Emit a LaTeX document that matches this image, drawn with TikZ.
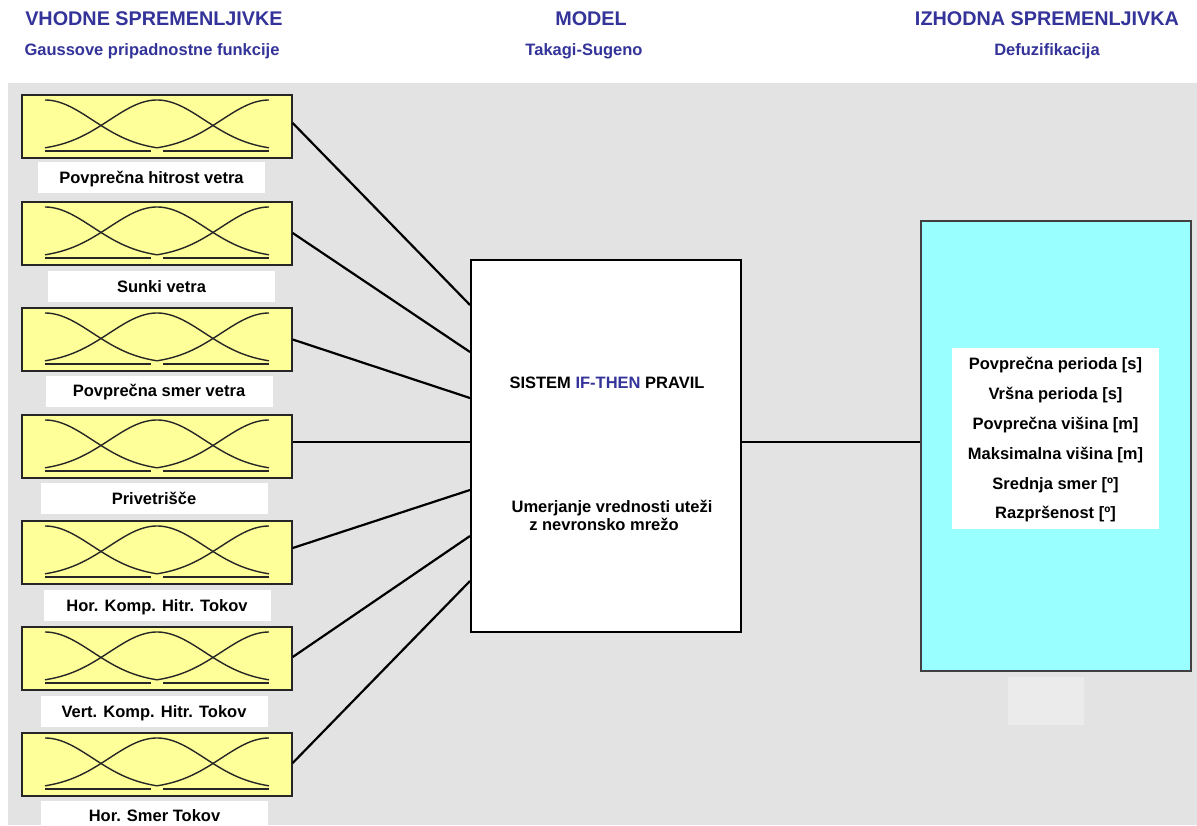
\documentclass[tikz,border=0pt]{standalone}
\usepackage{fontspec}
\setmainfont{Liberation Sans}
\definecolor{bggray}{HTML}{E3E3E3}
\definecolor{mfyellow}{HTML}{FFFF99}
\definecolor{outcyan}{HTML}{99FFFF}
\definecolor{hblue}{HTML}{333399}
\definecolor{ghost}{HTML}{EBEBEB}
\newcommand\titlefont{\bfseries\fontsize{19.8}{23}\selectfont}
\newcommand\subfont{\bfseries\fontsize{16.5}{20}\selectfont}
\newcommand\bodyfont{\bfseries\fontsize{16.5}{20}\selectfont}
\newcommand\listfont{\bfseries\fontsize{16.5}{29.8}\selectfont}
\newcommand\mfcurves[1]{%
  \draw[mfline] plot[domain=45:157,samples=45] (\x,{#1+56-51*exp(-0.5*((\x-45)/47.6)*((\x-45)/47.6))});
  \draw[mfline] plot[domain=45:269,samples=80] (\x,{#1+56-51*exp(-0.5*((\x-157)/47.6)*((\x-157)/47.6))});
  \draw[mfline] plot[domain=157:269,samples=45] (\x,{#1+56-51*exp(-0.5*((\x-269)/47.6)*((\x-269)/47.6))});
  \draw[line width=2pt,black!85] (45,#1+56) -- (151,#1+56);
  \draw[line width=2pt,black!85] (163,#1+56) -- (269,#1+56);
}
\tikzset{
  mfbox/.style={draw=black!85, line width=1.4pt, fill=mfyellow, minimum width=270pt, minimum height=63pt, inner sep=0pt},
  mfline/.style={line width=1.4pt, black!85},
  lbl/.style={fill=white, minimum width=227pt, minimum height=31pt, inner sep=0pt, text height=11.8pt, text depth=0pt, font=\bodyfont},
  conn/.style={line width=2.2pt, black},
  hdr/.style={anchor=base, text=hblue, inner sep=0pt},
}
\begin{document}
\begin{tikzpicture}[x=1pt,y=-1pt]
\useasboundingbox (0,0) rectangle (1197,825);
\fill[white] (0,0) rectangle (1197,825);
\fill[bggray] (8,83) rectangle (1197,825);

% headers
\node[hdr, font=\titlefont] (h1) at (154,25) {VHODNE SPREMENLJIVKE};
\node[hdr, font=\subfont] (s1) at (152,55) {Gaussove pripadnostne funkcije};
\node[hdr, font=\titlefont] (h2) at (591,25) {MODEL};
\node[hdr, font=\subfont] (s2) at (584,55) {Takagi-Sugeno};
\node[hdr, font=\titlefont] (h3) at (1047,25) {IZHODNA SPREMENLJIVKA};
\node[hdr, font=\subfont] (s3) at (1047,55) {Defuzifikacija};

% input boxes
\node[mfbox] (in1) at (157,126.5) {};
\node[mfbox] (in2) at (157,233.5) {};
\node[mfbox] (in3) at (157,339.5) {};
\node[mfbox] (in4) at (157,446.5) {};
\node[mfbox] (in5) at (157,552.5) {};
\node[mfbox] (in6) at (157,658.5) {};
\node[mfbox] (in7) at (157,764.5) {};
\mfcurves{95}
\mfcurves{202}
\mfcurves{308}
\mfcurves{415}
\mfcurves{521}
\mfcurves{627}
\mfcurves{733}

% labels
\node[lbl] (l1) at (151.5,177.5) {Povprečna hitrost vetra};
\node[lbl] (l2) at (161.5,286.5) {Sunki vetra};
\node[lbl] (l3) at (159,391) {Povprečna smer vetra};
\node[lbl] (l4) at (154,498.5) {Privetrišče};
\node[lbl] (l5) at (157,605.5) {Hor. Komp. Hitr. Tokov};
\node[lbl] (l6) at (154,711.5) {Vert. Komp. Hitr. Tokov};
\node[lbl] (l7) at (154.5,816) {Hor. Smer Tokov};

% model box
\node[draw=black, line width=2pt, fill=white, minimum width=270pt, minimum height=372pt, inner sep=0pt] (model) at (606,446) {};
\node[anchor=base, font=\bodyfont, inner sep=0pt] (mt1) at (607,388) {SISTEM \textcolor{hblue}{IF-THEN} PRAVIL};
\node[anchor=base, font=\bodyfont, inner sep=0pt] (mt2) at (612,512) {Umerjanje vrednosti uteži};
\node[anchor=base, font=\bodyfont, inner sep=0pt] (mt3) at (604,530) {z nevronsko mrežo};

% output box
\node[draw=black!75, line width=2pt, fill=outcyan, minimum width=270pt, minimum height=450pt, inner sep=0pt] (out) at (1056,446) {};
\node[fill=white, minimum width=207pt, minimum height=181pt, inner sep=0pt] (outw) at (1055.5,438.5) {};
\node[font=\listfont, align=center, inner sep=0pt] (outt) at (1055.5,440) {%
  Povprečna perioda [s]\\
  Vršna perioda [s]\\
  Povprečna višina [m]\\
  Maksimalna višina [m]\\
  Srednja smer [º]\\
  Razpršenost [º]};
\node[fill=ghost, minimum width=76pt, minimum height=48pt, inner sep=0pt] (ghostbox) at (1046,701) {};

% connectors
\draw[conn] ([yshift=3.5pt]in1.east) -- ([yshift=141pt]model.west);
\draw[conn] ([yshift=0.5pt]in2.east) -- ([yshift=94pt]model.west);
\draw[conn] (in3.east) -- ([yshift=48pt]model.west);
\draw[conn] ([yshift=4.5pt]in4.east) -- ([yshift=4pt]model.west);
\draw[conn] ([yshift=4.5pt]in5.east) -- ([yshift=-44pt]model.west);
\draw[conn] ([yshift=1.5pt]in6.east) -- ([yshift=-90pt]model.west);
\draw[conn] ([yshift=1.5pt]in7.east) -- ([yshift=-135pt]model.west);
\draw[conn] ([yshift=4pt]model.east) -- ([yshift=4pt]out.west);
\end{tikzpicture}
\end{document}
